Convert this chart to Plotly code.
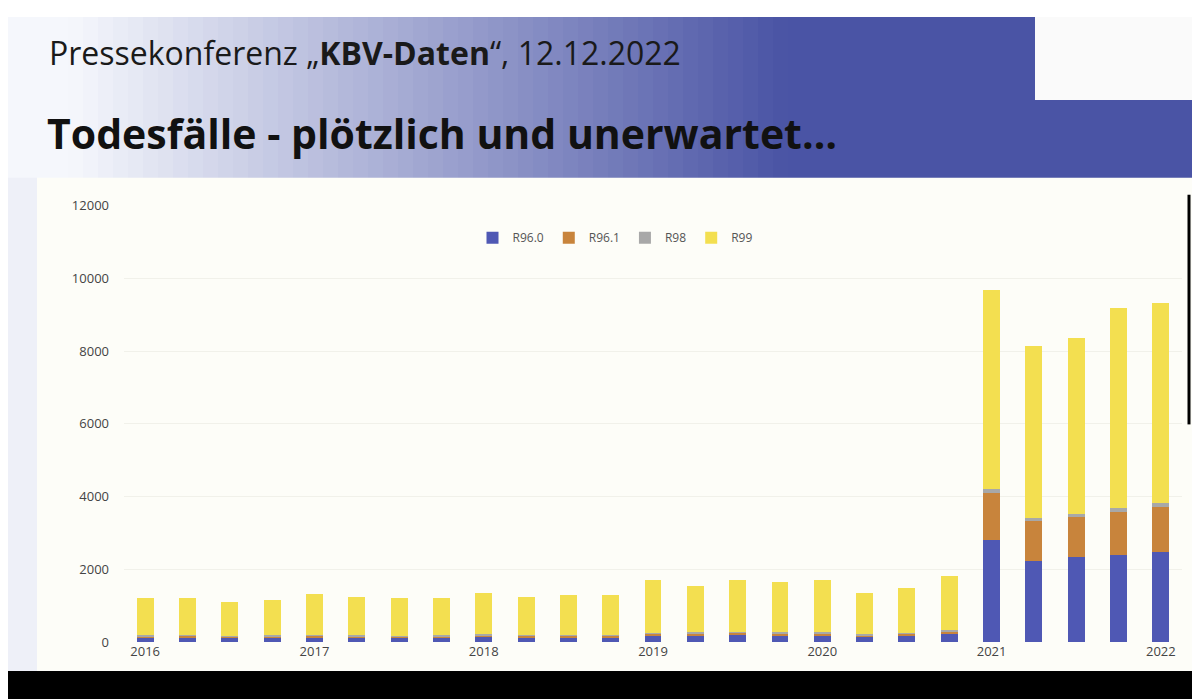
import plotly.graph_objects as go

# quarterly values 2016 Q1 .. 2022 Q1
quarters = ['2016 Q1', '2016 Q2', '2016 Q3', '2016 Q4', '2017 Q1', '2017 Q2', '2017 Q3', '2017 Q4',
            '2018 Q1', '2018 Q2', '2018 Q3', '2018 Q4', '2019 Q1', '2019 Q2', '2019 Q3', '2019 Q4',
            '2020 Q1', '2020 Q2', '2020 Q3', '2020 Q4', '2021 Q1', '2021 Q2', '2021 Q3', '2021 Q4',
            '2022 Q1']
r96_0 = [130, 140, 120, 130, 140, 130, 120, 130, 150, 140, 140, 140, 170, 180, 190, 180,
         180, 150, 170, 220, 2800, 2230, 2340, 2390, 2470]
r96_1 = [40, 40, 35, 40, 45, 40, 40, 40, 45, 40, 45, 45, 60, 60, 70, 60,
         70, 50, 60, 80, 1290, 1090, 1090, 1180, 1240]
r98 = [20, 20, 15, 20, 20, 20, 20, 20, 20, 20, 20, 20, 30, 30, 30, 30,
       30, 20, 30, 40, 110, 80, 100, 130, 110]
r99 = [1010, 1000, 930, 960, 1125, 1060, 1020, 1010, 1135, 1030, 1085, 1085, 1440, 1260, 1430, 1380,
       1420, 1120, 1240, 1480, 5470, 4750, 4840, 5500, 5510]
tick_pos = [0, 4, 8, 12, 16, 20, 24]
tick_text = ['2016', '2017', '2018', '2019', '2020', '2021', '2022']

series = [('R96.0', r96_0, '#4f58b4'), ('R96.1', r96_1, '#c8843c'),
          ('R98', r98, '#a8a8a8'), ('R99', r99, '#f3df50')]


# the page shows the figure offset by the body margin; map screen pixels to paper fractions
def px_x(X):
    return (X - 8) / 1200


def px_y(Y):
    return 1 - (Y - 17) / 683


fig = go.Figure()
x = list(range(len(quarters)))
for name, vals, col in series:
    fig.add_bar(x=x, y=vals, name=name, marker_color=col, marker_line_width=0,
                width=0.4, customdata=quarters, hovertemplate='%{customdata}: %{y}<extra>' + name + '</extra>')

# background gradient from white to slide blue
shapes = []
n = 80
for i in range(n):
    t = i / (n - 1)
    t2 = min(1.0, max(0.0, (t - 0.05) / 0.6))
    r = int(245 + (74 - 245) * t2)
    g = int(247 + (84 - 247) * t2)
    b = int(252 + (165 - 252) * t2)
    shapes.append(dict(type='rect', xref='paper', yref='paper', x0=i / n, x1=(i + 1) / n + 0.001,
                       y0=0, y1=1, fillcolor=f'rgb({r},{g},{b})', line_width=0, layer='below'))
shapes.append(dict(type='rect', xref='paper', yref='paper', x0=0, x1=px_x(37), y0=0, y1=px_y(178),
                   fillcolor='#eef0f8', line_width=0, layer='below'))
shapes.append(dict(type='rect', xref='paper', yref='paper', x0=px_x(37), x1=1, y0=0, y1=px_y(178),
                   fillcolor='#fdfdf8', line_width=0, layer='below'))
shapes.append(dict(type='rect', xref='paper', yref='paper', x0=px_x(1035), x1=1, y0=px_y(100), y1=1,
                   fillcolor='#fafafa', line_width=0, layer='below'))
shapes.append(dict(type='rect', xref='paper', yref='paper', x0=0, x1=1, y0=0, y1=px_y(672),
                   fillcolor='black', line_width=0, layer='above'))
shapes.append(dict(type='line', xref='paper', yref='paper', x0=px_x(1189), x1=px_x(1189),
                   y0=px_y(425), y1=px_y(195), line=dict(color='black', width=3)))

fig.update_layout(
    width=1200, height=700, margin=dict(l=0, r=0, t=0, b=0),
    paper_bgcolor='white', plot_bgcolor='rgba(0,0,0,0)',
    barmode='stack', bargap=0.6, shapes=shapes,
    font=dict(family='Open Sans, sans-serif', color='#595959'),
    xaxis=dict(domain=[px_x(124), px_x(1182)], range=[-0.5, 24.5], tickvals=tick_pos,
               ticktext=tick_text, showgrid=False, zeroline=False, tickfont=dict(size=13, color='#444')),
    yaxis=dict(domain=[px_y(643), px_y(206)], range=[0, 12000], dtick=2000, tickformat='d',
               showgrid=True, gridcolor='#f1f1ea', zeroline=False, ticklabelstandoff=14,
               tickfont=dict(size=13, color='#444')),
    legend=dict(orientation='h', x=px_x(615), xanchor='center', y=px_y(238), yanchor='middle',
                bgcolor='rgba(0,0,0,0)', font=dict(size=12, color='#555'), itemwidth=30,
                traceorder='normal'),
    annotations=[
        dict(text='Pressekonferenz „<b>KBV-Daten</b>“, 12.12.2022', xref='paper', yref='paper',
             x=px_x(47), y=px_y(53), xanchor='left', yanchor='middle', showarrow=False,
             font=dict(size=32, color='#1a1a1a', family='Open Sans, sans-serif')),
        dict(text='<b>Todesfälle - plötzlich und unerwartet…</b>', xref='paper', yref='paper',
             x=px_x(45), y=px_y(133), xanchor='left', yanchor='middle', showarrow=False,
             font=dict(size=41, color='#111', family='Open Sans, sans-serif')),
    ],
)

fig.write_html('out.html')
